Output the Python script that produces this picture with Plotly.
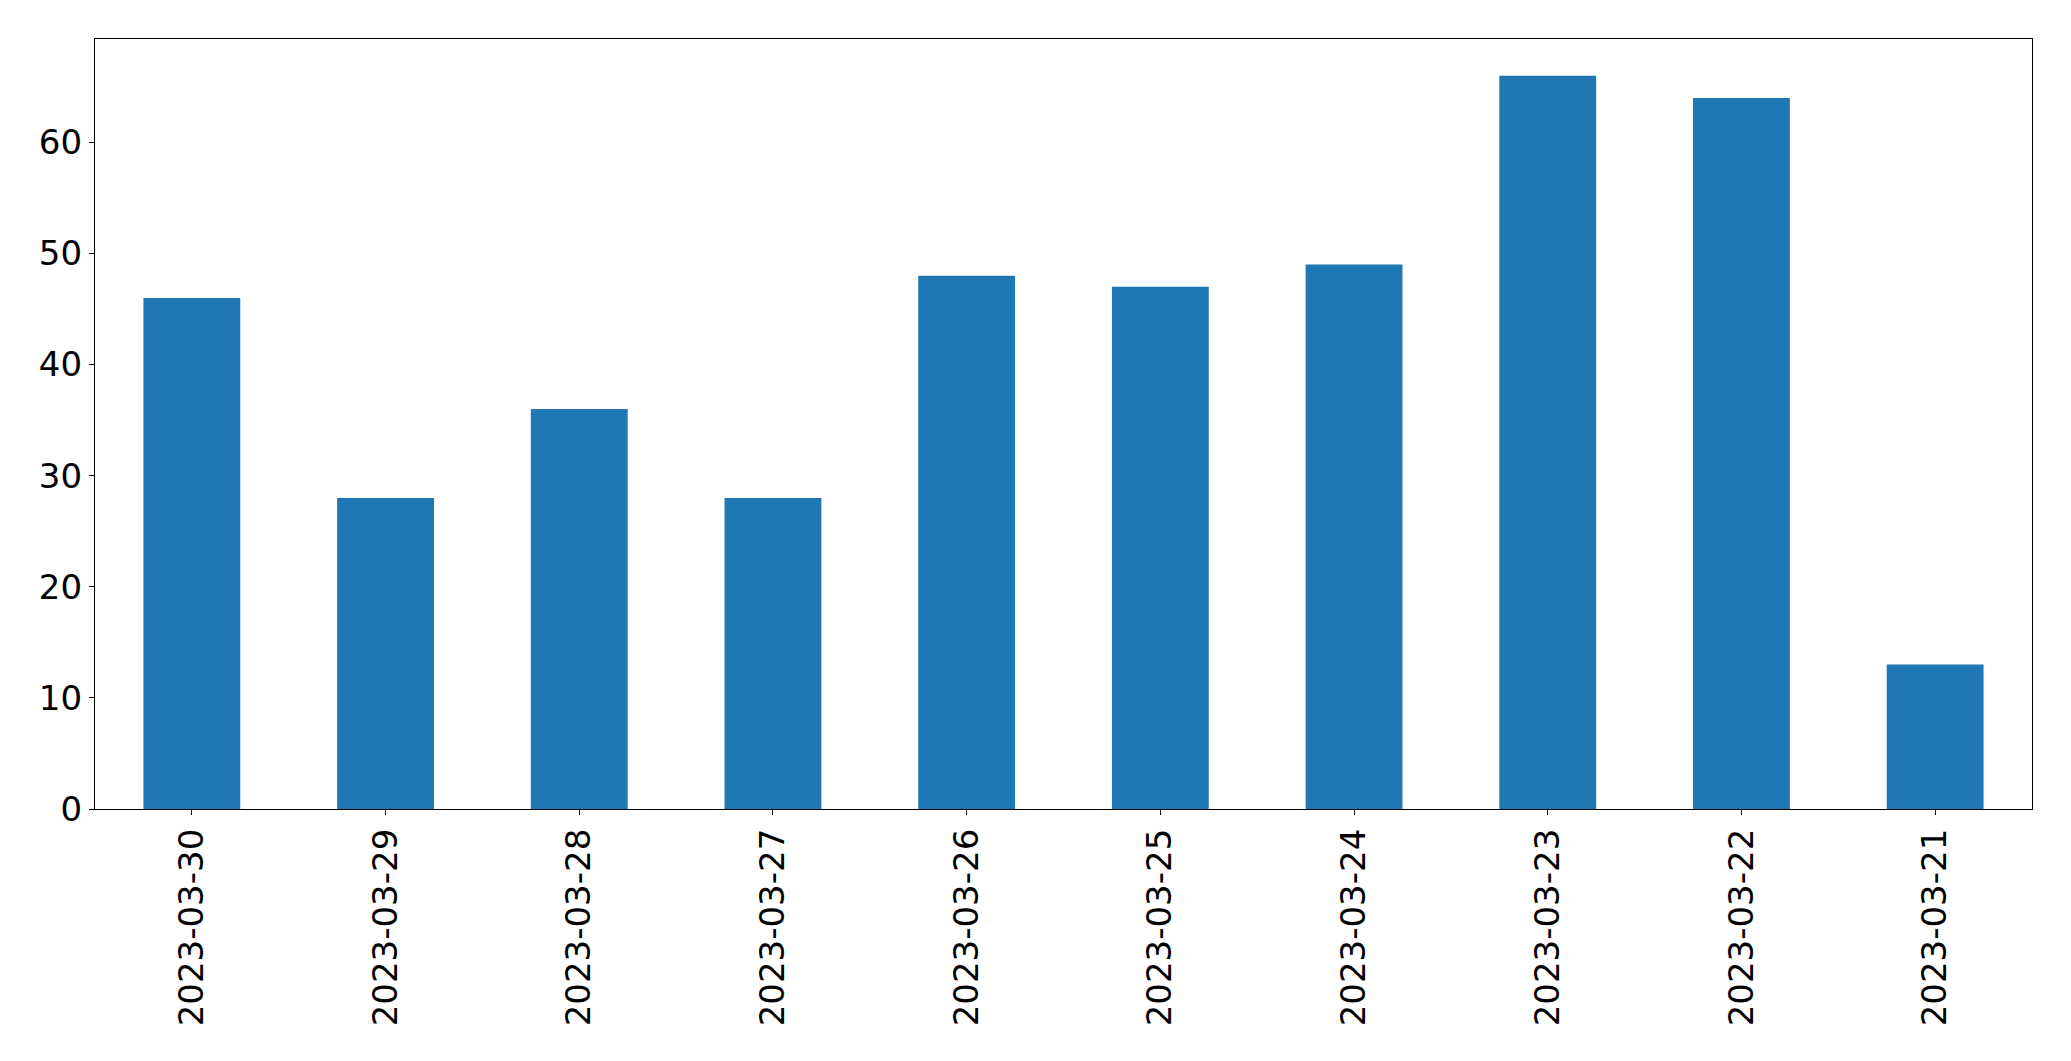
import plotly.graph_objects as go

dates = ["2023-03-30", "2023-03-29", "2023-03-28", "2023-03-27", "2023-03-26",
         "2023-03-25", "2023-03-24", "2023-03-23", "2023-03-22", "2023-03-21"]
counts = [46, 28, 36, 28, 48, 47, 49, 66, 64, 13]
y_ticks = [0, 10, 20, 30, 40, 50, 60]

fig = go.Figure(go.Bar(x=dates, y=counts, width=0.5, marker=dict(color="#1f77b4", line=dict(width=0))))

axis_common = dict(
    showline=True, linecolor="black", linewidth=1.3, mirror=True,
    ticks="outside", ticklen=5, tickwidth=1.3, tickcolor="black",
    showgrid=False, zeroline=False,
    tickfont=dict(family="DejaVu Sans", size=34, color="black"),
)

fig.update_layout(
    width=2071, height=1061,
    margin=dict(l=95, r=39, t=39, b=252, autoexpand=False),
    paper_bgcolor="white", plot_bgcolor="white",
    showlegend=False,
    xaxis=dict(type="category", tickangle=-90, range=[-0.5, 9.5], automargin=False, **axis_common),
    yaxis=dict(range=[0, 69.3], tickvals=y_ticks, automargin=False, **axis_common),
)

fig.write_html("out.html")
